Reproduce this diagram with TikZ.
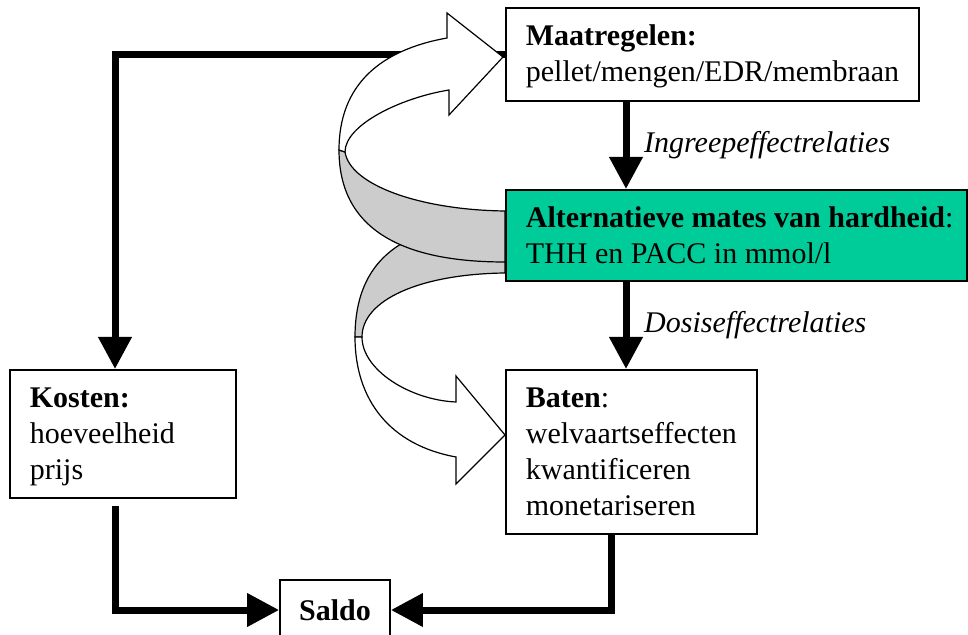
\documentclass[tikz,border=0pt]{standalone}
\usepackage{fontspec}
\setmainfont{Liberation Serif}
\usepackage{tikz}
\usetikzlibrary{arrows.meta, positioning}
\definecolor{hardgreen}{RGB}{0,204,153}
\definecolor{bandgray}{RGB}{204,204,204}
\hyphenpenalty=10000
\exhyphenpenalty=10000

\begin{document}
\begin{tikzpicture}[x=0.5pt, y=-0.5pt,
    box/.style={draw, line width=0.9pt, anchor=north west, align=flush left,
      inner xsep=10pt, inner ysep=0pt, text height=19pt,
      font=\fontsize{15}{18}\selectfont},
    flow/.style={line width=3.5pt, -{Triangle[length=16pt, width=16pt]}},
    lbl/.style={right=4pt, font=\fontsize{15}{18}\selectfont\itshape},
    band/.style={draw, line width=0.6pt, fill=bandgray},
    ribbon/.style={draw, line width=0.6pt, fill=white}]
  \useasboundingbox (0,0) rectangle (968,635);

  % Boxes
  \node[box, text width=186.5pt, text depth=27.5pt] (maat) at (505,7)
    {\textbf{Maatregelen:}\\pellet/mengen/EDR/membraan};
  \node[box, fill=hardgreen, text width=210.5pt, text depth=26.5pt] (alt) at (505,189)
    {\mbox{\textbf{Alternatieve mates van hardheid}:}\\THH en PACC in mmol/l};
  \node[box, text width=105.5pt, text depth=63pt] (bat) at (505,369)
    {\textbf{Baten}:\\welvaartseffecten\\kwantificeren\\monetariseren};
  \node[box, text width=93pt, text depth=45pt] (kost) at (9,369)
    {\textbf{Kosten:}\\hoeveelheid\\prijs};
  \node[draw, line width=0.9pt, minimum width=55pt, minimum height=30pt,
    font=\fontsize{15}{18}\selectfont\bfseries] (saldo) at (335,610) {Saldo};

  % x positions of the vertical lines
  \coordinate (ax) at (626,0);
  \coordinate (lx) at (115,0);
  \coordinate (rx) at (611,0);

  % Thick arrows
  \draw[flow] (maat.south -| ax) -- (alt.north -| ax)
    node[lbl, midway] {Ingreepeffectrelaties};
  \draw[flow] (alt.south -| ax) -- (bat.north -| ax)
    node[lbl, midway] {Dosiseffectrelaties};
  \draw[flow] (maat.west) -| (kost.north -| lx);
  \draw[flow, shorten <=3.5pt] (kost.south -| lx) |- (saldo.west);
  \draw[flow] (bat.south -| rx) |- (saldo.east);

  % Curved ribbon arrows, back faces first
  \path[band] (505,222) .. controls (425,222) and (355,244) .. (355,337)
    -- (362,337) .. controls (362,300) and (420,274) .. (505,273) -- cycle;
  \path[band] (339,150) .. controls (339,240) and (420,262) .. (505,262)
    -- (505,211) .. controls (420,210) and (350,185) .. (345,152) -- cycle;
  \path[ribbon] (449,90) .. controls (400,98) and (345,125) .. (345,152)
    -- (339,150) .. controls (339,85) and (380,50) .. (447,38)
    -- (447,13) -- (503,57) -- (449,115) -- cycle;
  \path[ribbon] (355,337) .. controls (355,400) and (390,445) .. (456,457)
    -- (456,484) -- (505,435) -- (456,376) -- (456,402)
    .. controls (410,400) and (362,370) .. (362,337) -- cycle;
\end{tikzpicture}
\end{document}
